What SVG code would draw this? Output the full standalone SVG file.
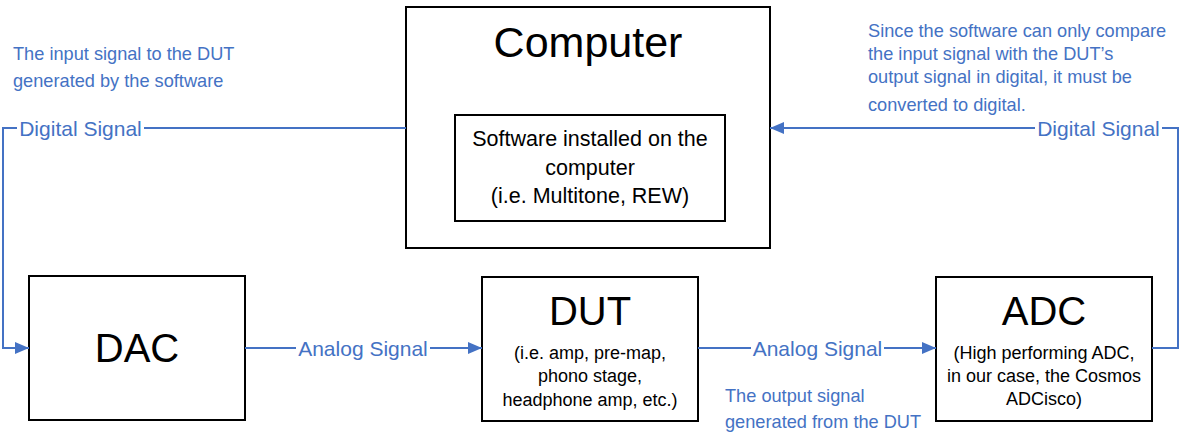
<svg xmlns="http://www.w3.org/2000/svg" width="1182" height="445" viewBox="0 0 1182 445">
<style>
.box{fill:#fff;stroke:#000;stroke-width:2}
.t{font-family:"Liberation Sans",Arial,sans-serif;fill:#000;text-anchor:middle}
.lbl{font-family:"Liberation Sans",Arial,sans-serif;fill:#4472C4;font-size:21px;text-anchor:middle}
.note{font-family:"Liberation Sans",Arial,sans-serif;fill:#4472C4;font-size:18.2px}
.wire{fill:none;stroke:#4472C4;stroke-width:2}
</style>
<defs>
<marker id="arr" markerUnits="userSpaceOnUse" markerWidth="14" markerHeight="12" refX="14" refY="6" orient="auto">
<path d="M0,0 L14,6 L0,12 z" fill="#4472C4"/>
</marker>
</defs>
<rect width="1182" height="445" fill="#fff"/>
<g id="computer">
<rect class="box" x="406" y="7" width="364" height="241"/>
<text class="t" x="588" y="57" font-size="43">Computer</text>
</g>
<g id="software">
<rect class="box" x="455" y="115" width="270" height="106"/>
<text class="t" x="590" y="146" font-size="21.5">Software installed on the</text>
<text class="t" x="590" y="175" font-size="21.5">computer</text>
<text class="t" x="590" y="203" font-size="21.5">(i.e. Multitone, REW)</text>
</g>
<g id="dac">
<rect class="box" x="29" y="276" width="216" height="144"/>
<text class="t" x="137" y="362" font-size="40">DAC</text>
</g>
<g id="dut">
<rect class="box" x="482" y="277" width="216" height="144"/>
<text class="t" x="590" y="325" font-size="40">DUT</text>
<text class="t" x="590" y="359" font-size="18">(i.e. amp, pre-map,</text>
<text class="t" x="590" y="382" font-size="18">phono stage,</text>
<text class="t" x="590" y="406" font-size="18">headphone amp, etc.)</text>
</g>
<g id="adc">
<rect class="box" x="936" y="277" width="216" height="144"/>
<text class="t" x="1044" y="325" font-size="40">ADC</text>
<text class="t" x="1044" y="359" font-size="18">(High performing ADC,</text>
<text class="t" x="1044" y="382" font-size="18">in our case, the Cosmos</text>
<text class="t" x="1044" y="405" font-size="18">ADCisco)</text>
</g>
<g id="connectors">
<path class="wire" d="M406,128 H144"/>
<path class="wire" d="M17,128 H3 V348 H29" marker-end="url(#arr)"/>
<text class="lbl" x="80.5" y="136">Digital Signal</text>
<path class="wire" d="M245,348 H296"/>
<path class="wire" d="M430,348 H482" marker-end="url(#arr)"/>
<text class="lbl" x="363" y="356">Analog Signal</text>
<path class="wire" d="M698,348 H751"/>
<path class="wire" d="M884,348 H936" marker-end="url(#arr)"/>
<text class="lbl" x="817.5" y="356">Analog Signal</text>
<path class="wire" d="M1152,348 H1178 V128 H1162"/>
<path class="wire" d="M1035,128 H770" marker-end="url(#arr)"/>
<text class="lbl" x="1098.5" y="136">Digital Signal</text>
</g>
<g id="notes">
<text class="note" x="13" y="60">The input signal to the DUT</text>
<text class="note" x="13" y="87">generated by the software</text>
<text class="note" x="868" y="37">Since the software can only compare</text>
<text class="note" x="868" y="60">the input signal with the DUT’s</text>
<text class="note" x="868" y="83">output signal in digital, it must be</text>
<text class="note" x="868" y="111">converted to digital.</text>
<text class="note" x="725" y="402">The output signal</text>
<text class="note" x="725" y="428">generated from the DUT</text>
</g>
</svg>
